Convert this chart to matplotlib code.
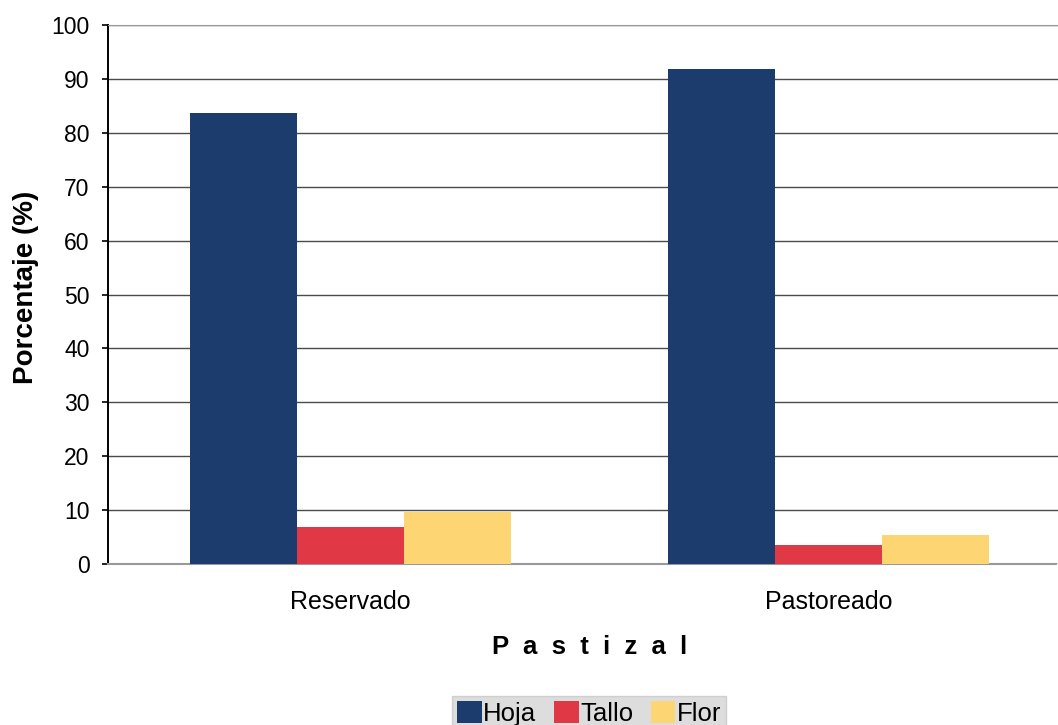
import matplotlib
matplotlib.use("Agg")
import matplotlib.pyplot as plt
import numpy as np

plt.rcParams["font.family"] = ["Liberation Sans", "DejaVu Sans"]

# porcentaje de cada componente por tipo de pastizal
pastizales = ["Reservado", "Pastoreado"]
hoja = [83.7, 91.8]
tallo = [6.9, 3.5]
flor = [9.6, 5.4]

NAVY = "#1c3c6e"; RED = "#e03845"; YELLOW = "#fdd673"

fig = plt.figure(figsize=(10.58, 7.25), dpi=100)
ax = fig.add_axes([0.102, 0.222, 0.898, 0.7434])

x = np.arange(len(pastizales)); w = 0.224
ax.bar(x - w, hoja, w, color=NAVY, label="Hoja", zorder=3)
ax.bar(x, tallo, w, color=RED, label="Tallo", zorder=3)
ax.bar(x + w, flor, w, color=YELLOW, label="Flor", zorder=3)

ax.set_xlim(-0.507, 1.4805)
ax.set_ylim(0, 100)
ax.set_yticks(range(0, 101, 10))
ax.tick_params(axis="y", labelsize=16.5, length=4.5, width=1.2, direction="out", pad=8.7)
ax.set_xticks(x)
ax.set_xticklabels(pastizales)
ax.tick_params(axis="x", labelsize=18, length=0, pad=19)

ax.grid(axis="y", color="#4a4a4a", linewidth=1.0, zorder=0)
ax.set_axisbelow(True)
ax.spines["right"].set_visible(False)
ax.spines["left"].set_linewidth(1.4)
ax.spines["top"].set_color("#999999"); ax.spines["top"].set_linestyle((0, (1, 1)))
ax.spines["bottom"].set_color("#999999"); ax.spines["bottom"].set_linestyle((0, (1, 1)))
ax.spines["bottom"].set_linewidth(1.5)

ax.set_ylabel("Porcentaje (%)", fontsize=20, fontweight="bold")
ax.yaxis.set_label_coords(-0.073, 0.514)
ax.set_xlabel("P  a  s  t  i  z  a  l", fontsize=18.5, fontweight="bold")
ax.xaxis.set_label_coords(0.507, -0.1325)

leg = fig.legend(loc="center", bbox_to_anchor=(0.557, 0.016), ncol=3, fontsize=18.5,
                 handlelength=0.95, handleheight=0.95, handletextpad=0.05, columnspacing=0.7,
                 borderpad=0.2, borderaxespad=0, fancybox=False, frameon=True)
leg.get_frame().set_facecolor("#d5d5d5")
leg.get_frame().set_edgecolor("#c8c8c8")

fig.savefig("out.png", dpi=100)
